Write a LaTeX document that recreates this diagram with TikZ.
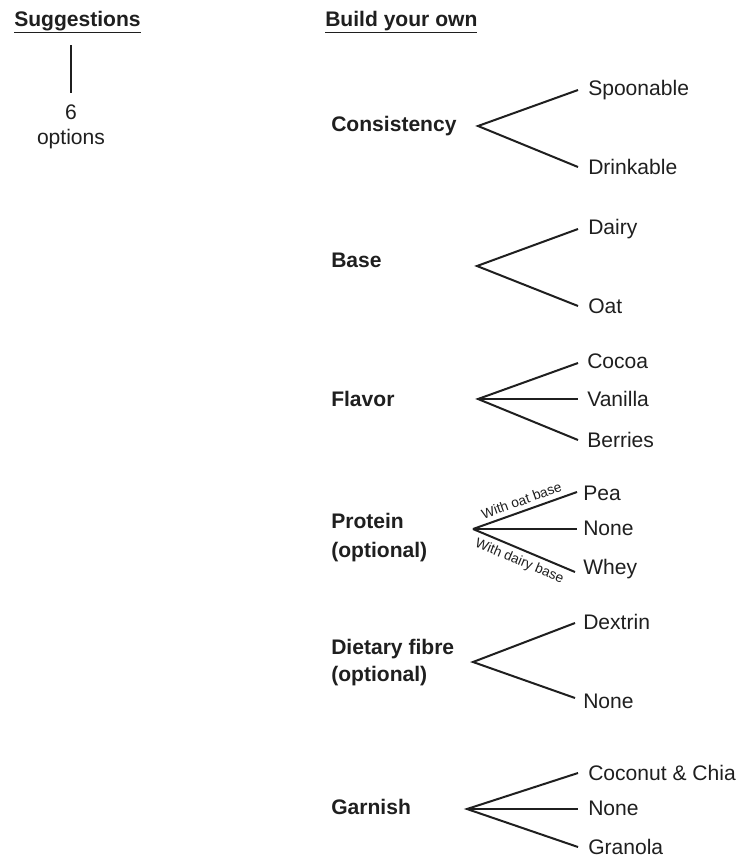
\documentclass[tikz,border=0pt]{standalone}
\usepackage{fontspec}
\setmainfont{Liberation Sans}
\begin{document}
\begin{tikzpicture}[x=0.75pt,y=-0.75pt,
  every node/.style={text=black!88, inner sep=0pt},
  head/.style={anchor=west, font=\fontsize{15.8}{18}\selectfont\bfseries},
  cat/.style={anchor=west, align=left, font=\fontsize{15.8}{20}\selectfont\bfseries},
  opt/.style={anchor=west, font=\fontsize{15.8}{18}\selectfont},
  br/.style={line width=1.5pt, draw=black!88},
  small/.style={font=\fontsize{10.3}{12}\selectfont, sloped, inner sep=3.5pt}]
\useasboundingbox (0,0) rectangle (736,858);
\fill[white] (0,0) rectangle (736,858);

% Suggestions column
\node[head] (sugg) at (14,22) {\underline{Suggestions}};
\coordinate (sugtop) at (71,45);
\coordinate (sugbot) at (71,93);
\draw[br] (sugtop) -- (sugbot);
\node[align=center, font=\fontsize{15.8}{18.75}\selectfont] (six) at (71,127) {6\\options};

% Build your own
\node[head] (build) at (325,22) {\underline{Build your own}};

% Consistency
\node[cat] (cons) at (331,126) {Consistency};
\coordinate (consB) at (478,126);
\coordinate (spoonE) at (578,90);
\coordinate (drinkE) at (578,167);
\node[opt] (spoon) at (588,90) {Spoonable};
\node[opt] (drink) at (588,167) {Drinkable};
\draw[br] (spoonE) -- (consB) -- (drinkE);

% Base
\node[cat] (base) at (331,260) {Base};
\coordinate (baseB) at (477,266);
\coordinate (dairyE) at (578,229);
\coordinate (oatE) at (578,306);
\node[opt] (dairy) at (588,229) {Dairy};
\node[opt] (oat) at (588,306) {Oat};
\draw[br] (dairyE) -- (baseB) -- (oatE);

% Flavor
\node[cat] (flav) at (331,399) {Flavor};
\coordinate (flavB) at (478,399);
\coordinate (cocoaE) at (578,363);
\coordinate (vanE) at (578,399);
\coordinate (berE) at (578,440);
\node[opt] (cocoa) at (587,361) {Cocoa};
\node[opt] (van) at (587,399) {Vanilla};
\node[opt] (ber) at (587,440) {Berries};
\draw[br] (cocoaE) -- (flavB) -- (berE);
\draw[br] (flavB) -- (vanE);

% Protein
\node[cat, font=\fontsize{15.8}{21.75}\selectfont\bfseries] (prot) at (331,538) {Protein\\(optional)};
\coordinate (protB) at (473,529);
\coordinate (peaE) at (577,492);
\coordinate (pnoneE) at (577,529);
\coordinate (wheyE) at (575,572);
\node[opt] (pea) at (583,493) {Pea};
\node[opt] (pnone) at (583,528) {None};
\node[opt] (whey) at (583,569) {Whey};
\draw[br] (protB) -- node[small, above] {With oat base} (peaE);
\draw[br] (protB) -- node[small, below] {With dairy base} (wheyE);
\draw[br] (protB) -- (pnoneE);

% Dietary fibre
\node[cat, font=\fontsize{15.8}{20.25}\selectfont\bfseries] (fib) at (331,663) {Dietary fibre\\(optional)};
\coordinate (fibB) at (473,662);
\coordinate (dexE) at (575,623);
\coordinate (fnoneE) at (575,698);
\node[opt] (dex) at (583,622) {Dextrin};
\node[opt] (fnone) at (583,701) {None};
\draw[br] (dexE) -- (fibB) -- (fnoneE);

% Garnish
\node[cat] (gar) at (331,807) {Garnish};
\coordinate (garB) at (467,809);
\coordinate (cocE) at (578,773);
\coordinate (gnoneE) at (578,809);
\coordinate (granE) at (578,847);
\node[opt] (coc) at (588,773) {Coconut \& Chia};
\node[opt] (gnone) at (588,808) {None};
\node[opt] (gran) at (588,847) {Granola};
\draw[br] (cocE) -- (garB) -- (granE);
\draw[br] (garB) -- (gnoneE);
\end{tikzpicture}
\end{document}
